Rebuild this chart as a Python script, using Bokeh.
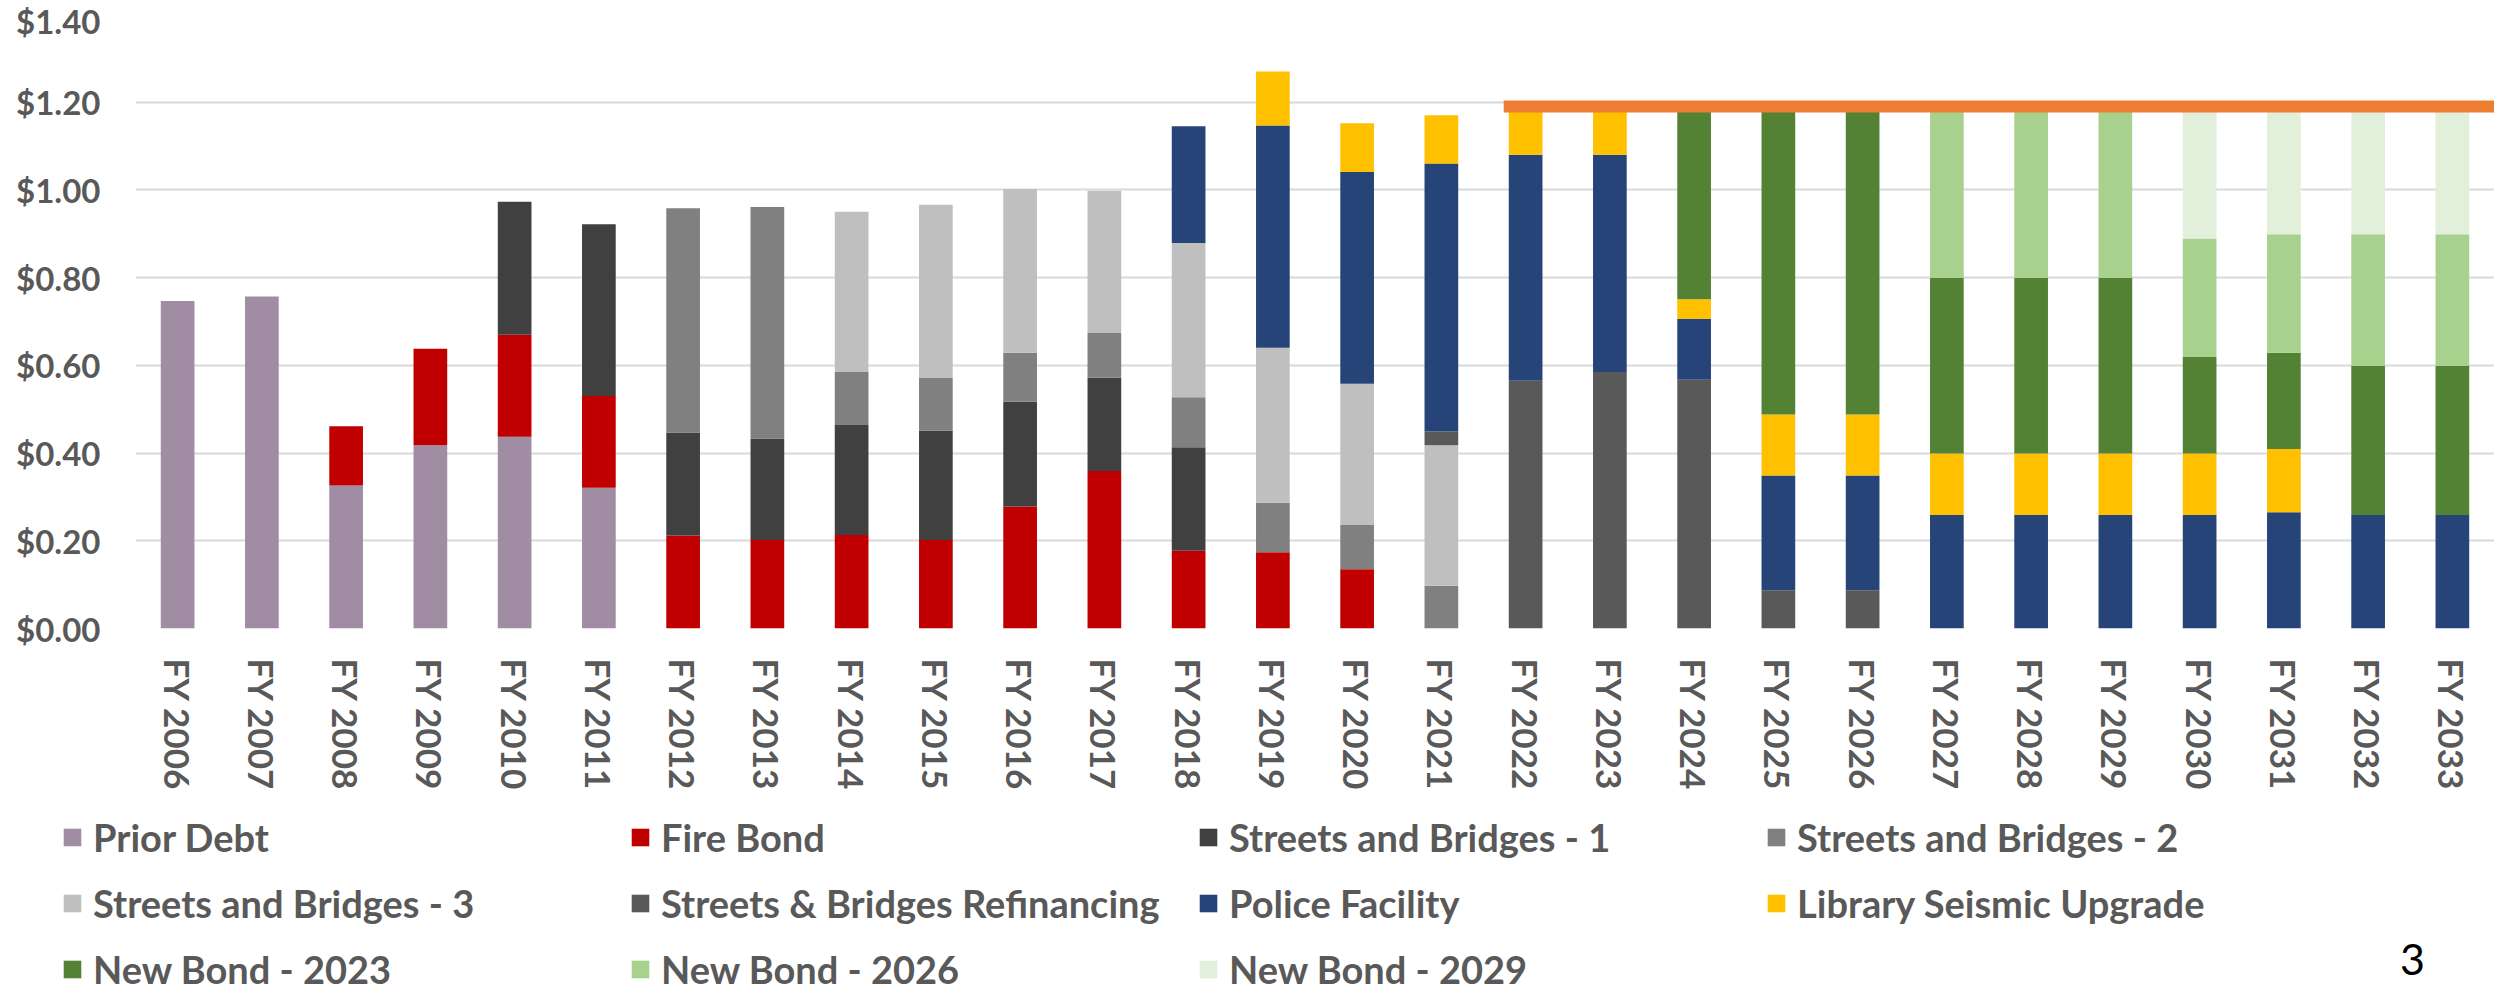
import math
from bokeh.plotting import figure
from bokeh.layouts import column
from bokeh.models import (FactorRange, Range1d, NumeralTickFormatter, FixedTicker,
                          Legend, LegendItem, Label, ColumnDataSource)
from bokeh.embed import file_html
from bokeh.resources import INLINE

# ---------------- data ----------------
years = list(range(2006, 2034))
categories = [f"FY {y}" for y in years]

series_names = ["Prior Debt", "Fire Bond", "Streets and Bridges - 1", "Streets and Bridges - 2",
                "Streets and Bridges - 3", "Streets & Bridges Refinancing", "Police Facility",
                "Library Seismic Upgrade", "New Bond - 2023", "New Bond - 2026", "New Bond - 2029"]

prior_debt = [0.747, 0.757, 0.326, 0.418, 0.437, 0.321, 0, 0, 0, 0, 0, 0, 0, 0,
              0, 0, 0, 0, 0, 0, 0, 0, 0, 0, 0, 0, 0, 0]
fire_bond = [0, 0, 0.135, 0.220, 0.233, 0.209, 0.212, 0.202, 0.213, 0.202, 0.278, 0.359, 0.177, 0.174,
             0.135, 0, 0, 0, 0, 0, 0, 0, 0, 0, 0, 0, 0, 0]
streets_1 = [0, 0, 0, 0, 0.303, 0.392, 0.235, 0.231, 0.251, 0.249, 0.239, 0.213, 0.236, 0,
             0, 0, 0, 0, 0, 0, 0, 0, 0, 0, 0, 0, 0, 0]
streets_2 = [0, 0, 0, 0, 0, 0, 0.511, 0.528, 0.122, 0.120, 0.112, 0.102, 0.114, 0.113,
             0.101, 0.0975, 0, 0, 0, 0, 0, 0, 0, 0, 0, 0, 0, 0]
streets_3 = [0, 0, 0, 0, 0, 0, 0, 0, 0.364, 0.395, 0.373, 0.324, 0.352, 0.353,
             0.322, 0.3205, 0, 0, 0, 0, 0, 0, 0, 0, 0, 0, 0, 0]
refinancing = [0, 0, 0, 0, 0, 0, 0, 0, 0, 0, 0, 0, 0, 0,
               0, 0.031, 0.565, 0.585, 0.567, 0.087, 0.087, 0, 0, 0, 0, 0, 0, 0]
police = [0, 0, 0, 0, 0, 0, 0, 0, 0, 0, 0, 0, 0.266, 0.507,
          0.483, 0.611, 0.515, 0.495, 0.139, 0.262, 0.262, 0.259, 0.259, 0.259, 0.259, 0.265, 0.259, 0.259]
library = [0, 0, 0, 0, 0, 0, 0, 0, 0, 0, 0, 0, 0, 0.123,
           0.111, 0.110, 0.110, 0.110, 0.045, 0.139, 0.139, 0.140, 0.140, 0.140, 0.140, 0.144, 0, 0]
new_2023 = [0, 0, 0, 0, 0, 0, 0, 0, 0, 0, 0, 0, 0, 0,
            0, 0, 0, 0, 0.439, 0.702, 0.702, 0.401, 0.401, 0.401, 0.220, 0.220, 0.340, 0.340]
new_2026 = [0, 0, 0, 0, 0, 0, 0, 0, 0, 0, 0, 0, 0, 0,
            0, 0, 0, 0, 0, 0, 0, 0.390, 0.390, 0.390, 0.270, 0.270, 0.300, 0.300]
new_2029 = [0, 0, 0, 0, 0, 0, 0, 0, 0, 0, 0, 0, 0, 0,
            0, 0, 0, 0, 0, 0, 0, 0, 0, 0, 0.301, 0.291, 0.291, 0.291]

cap_level = 1.19
cap_from = "FY 2022"
cap_to = "FY 2033"
y_ticks = [0, 0.2, 0.4, 0.6, 0.8, 1.0, 1.2, 1.4]
page_number = "3"

colors = ["#A08DA3", "#C00000", "#404040", "#808080", "#BFBFBF", "#595959",
          "#264478", "#FFC000", "#548235", "#A9D18E", "#E2EFDA"]

keys = ["s0", "s1", "s2", "s3", "s4", "s5", "s6", "s7", "s8", "s9", "s10"]
values = [prior_debt, fire_bond, streets_1, streets_2, streets_3, refinancing,
          police, library, new_2023, new_2026, new_2029]
data = {"cat": categories}
for k, v in zip(keys, values):
    data[k] = v
source = ColumnDataSource(data)

TEXT = "#595959"

# ---------------- main chart ----------------
p = figure(width=2494, height=826, x_range=FactorRange(*categories), y_range=Range1d(0, 1.4),
           output_backend="svg", toolbar_location=None,
           min_border_left=135, min_border_right=0, min_border_top=14, min_border_bottom=198)
p.outline_line_color = None

p.vbar_stack(keys, x="cat", width=0.4, color=colors, line_color=None, source=source)

p.segment(x0=[(cap_from, -0.26)], y0=[cap_level], x1=[(cap_to, 0.5)], y1=[cap_level],
          line_color="#ED7D31", line_width=12, line_cap="butt")

p.xgrid.grid_line_color = None
p.ygrid.grid_line_color = "#D9D9D9"
p.ygrid.grid_line_width = 2
p.ygrid.ticker = FixedTicker(ticks=y_ticks)

p.yaxis.ticker = FixedTicker(ticks=y_ticks)
p.yaxis.formatter = NumeralTickFormatter(format="$0.00")
p.yaxis.axis_line_color = None
p.yaxis.major_tick_line_color = None
p.yaxis.minor_tick_line_color = None
p.yaxis.major_tick_out = 0
p.yaxis.major_label_standoff = 35
p.yaxis.major_label_text_font = "Lato"
p.yaxis.major_label_text_font_style = "bold"
p.yaxis.major_label_text_font_size = "33px"
p.yaxis.major_label_text_color = TEXT

p.xaxis.axis_line_color = None
p.xaxis.major_tick_line_color = None
p.xaxis.major_tick_out = 0
p.xaxis.major_label_standoff = 30
p.xaxis.major_label_orientation = -math.pi / 2
p.xaxis.major_label_text_font = "Lato"
p.xaxis.major_label_text_font_style = "bold"
p.xaxis.major_label_text_font_size = "35px"
p.xaxis.major_label_text_color = TEXT

# ---------------- legend strip ----------------
q = figure(width=2494, height=173, x_range=Range1d(0, 1), y_range=Range1d(0, 1),
           x_axis_type=None, y_axis_type=None, output_backend="svg", toolbar_location=None,
           min_border_left=0, min_border_right=0, min_border_top=0, min_border_bottom=0,
           margin=(-14, 0, 0, 0))
q.frame_align = False
q.outline_line_color = None
q.background_fill_alpha = 0
q.border_fill_alpha = 0
q.xgrid.grid_line_color = None
q.ygrid.grid_line_color = None

# swatch-only renderers (their single bar sits outside the visible range)
swatch = ColumnDataSource({"x": [-10.0], "top": [0.0]})
legend_renderers = [q.vbar(x="x", top="top", width=0.4, color=c, line_color=None, source=swatch)
                    for c in colors]

items = [LegendItem(label=n, renderers=[r]) for n, r in zip(series_names, legend_renderers)]
legend = Legend(items=items, location=(61, -7), orientation="horizontal", ncols=4,
                label_text_font="Lato", label_text_font_style="bold", label_text_font_size="38px",
                label_text_color=TEXT, glyph_width=22, glyph_height=22, label_standoff=10,
                label_height=46, label_width=516, spacing=20, padding=0, margin=0,
                border_line_color=None, background_fill_alpha=0)
q.add_layout(legend, "center")

q.add_layout(Label(x=2412, y=26, x_units="screen", y_units="screen", text=page_number,
                   text_font="Lato", text_font_size="43px", text_color="black",
                   text_align="center", text_baseline="alphabetic"))

layout = column(p, q, spacing=0)
open("out.html", "w").write(file_html(layout, INLINE))
